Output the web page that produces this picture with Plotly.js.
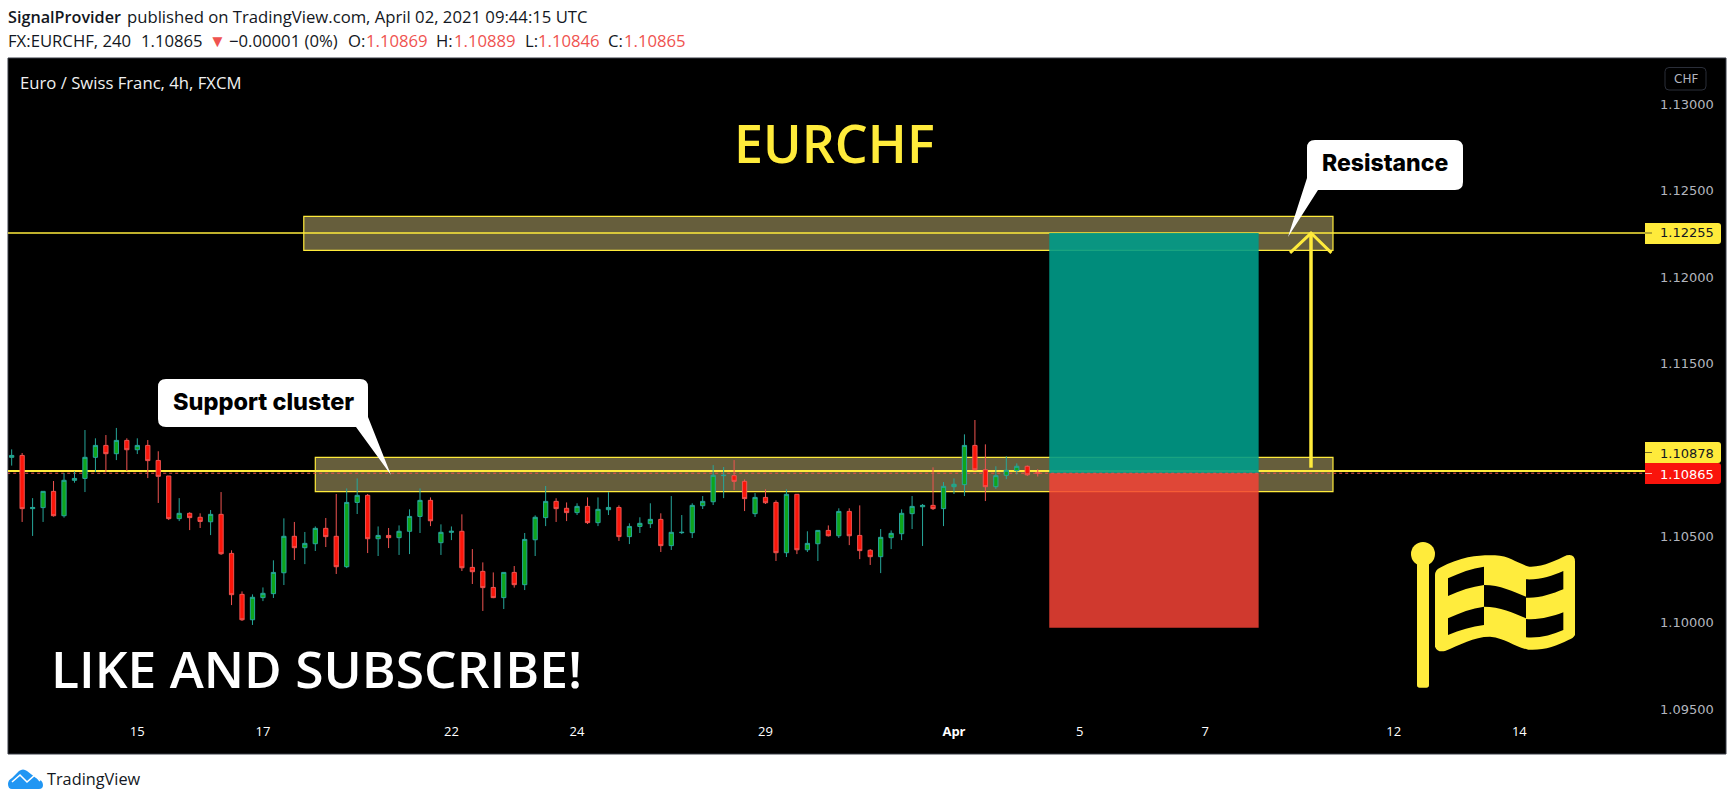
<!DOCTYPE html>
<html><head><meta charset="utf-8">
<script src="https://cdn.plot.ly/plotly-3.0.1.min.js"></script>
<style>html,body{margin:0;padding:0;background:#fff}#c{width:1734px;height:803px}</style>
</head><body><div id="c"></div>
<script>
const openP=[1.10957,1.10968,1.10660,1.10666,1.10760,1.10619,1.10824,1.10835,1.10957,1.11026,1.10978,1.11055,1.11001,1.11026,1.10939,1.10849,1.10602,1.10633,1.10610,1.10584,1.10627,1.10401,1.10164,1.10017,1.10145,1.10168,1.10289,1.10500,1.10434,1.10457,1.10546,1.10500,1.10324,1.10696,1.10737,1.10486,1.10505,1.10492,1.10529,1.10615,1.10708,1.10463,1.10523,1.10529,1.10320,1.10297,1.10204,1.10145,1.10291,1.10220,1.10480,1.10608,1.10702,1.10662,1.10637,1.10673,1.10579,1.10654,1.10667,1.10498,1.10557,1.10573,1.10598,1.10446,1.10521,1.10521,1.10677,1.10700,1.10851,1.10851,1.10818,1.10631,1.10725,1.10696,1.10405,1.10743,1.10422,1.10457,1.10534,1.10503,1.10644,1.10505,1.10419,1.10382,1.10492,1.10515,1.10631,1.10671,1.10679,1.10660,1.10787,1.10799,1.11026,1.10885,1.10787,1.10853,1.10880,1.10905,1.10869];
const highP=[1.11003,1.10982,1.10721,1.10760,1.10820,1.10866,1.10876,1.11115,1.11067,1.11086,1.11127,1.11067,1.11067,1.11057,1.10992,1.10849,1.10721,1.10639,1.10633,1.10652,1.10756,1.10419,1.10181,1.10164,1.10204,1.10361,1.10604,1.10583,1.10525,1.10557,1.10606,1.10745,1.10777,1.10835,1.10745,1.10557,1.10548,1.10563,1.10656,1.10777,1.10725,1.10569,1.10557,1.10627,1.10426,1.10349,1.10291,1.10291,1.10328,1.10519,1.10621,1.10791,1.10720,1.10696,1.10691,1.10725,1.10725,1.10756,1.10679,1.10575,1.10610,1.10691,1.10633,1.10733,1.10623,1.10691,1.10733,1.10912,1.10901,1.10941,1.10829,1.10750,1.10772,1.10708,1.10772,1.10743,1.10529,1.10534,1.10563,1.10662,1.10662,1.10679,1.10426,1.10542,1.10534,1.10656,1.10733,1.10687,1.10899,1.10814,1.10835,1.11090,1.11173,1.11032,1.10905,1.10963,1.10922,1.10910,1.10889];
const lowP=[1.10909,1.10583,1.10502,1.10583,1.10614,1.10608,1.10810,1.10756,1.10872,1.10872,1.10941,1.10878,1.10976,1.10837,1.10693,1.10594,1.10588,1.10536,1.10548,1.10507,1.10392,1.10102,1.10010,1.09987,1.10125,1.10143,1.10218,1.10363,1.10339,1.10415,1.10438,1.10282,1.10316,1.10629,1.10403,1.10386,1.10432,1.10392,1.10397,1.10519,1.10559,1.10392,1.10478,1.10299,1.10224,1.10068,1.10142,1.10079,1.10203,1.10189,1.10386,1.10559,1.10583,1.10588,1.10623,1.10571,1.10559,1.10623,1.10473,1.10455,1.10519,1.10548,1.10409,1.10421,1.10513,1.10490,1.10658,1.10681,1.10721,1.10768,1.10646,1.10612,1.10687,1.10357,1.10380,1.10397,1.10409,1.10357,1.10499,1.10490,1.10449,1.10368,1.10334,1.10287,1.10426,1.10478,1.10542,1.10444,1.10652,1.10559,1.10745,1.10733,1.10882,1.10704,1.10774,1.10831,1.10858,1.10849,1.10846];
const closeP=[1.10968,1.10660,1.10667,1.10760,1.10619,1.10824,1.10835,1.10957,1.11026,1.10978,1.11055,1.11001,1.11026,1.10938,1.10847,1.10602,1.10633,1.10608,1.10586,1.10627,1.10399,1.10162,1.10017,1.10147,1.10170,1.10291,1.10500,1.10434,1.10459,1.10546,1.10498,1.10324,1.10696,1.10737,1.10486,1.10505,1.10492,1.10529,1.10615,1.10708,1.10590,1.10523,1.10529,1.10318,1.10295,1.10203,1.10145,1.10291,1.10220,1.10482,1.10610,1.10702,1.10660,1.10637,1.10673,1.10579,1.10656,1.10667,1.10498,1.10557,1.10575,1.10598,1.10446,1.10523,1.10523,1.10679,1.10702,1.10853,1.10853,1.10818,1.10718,1.10725,1.10694,1.10405,1.10743,1.10422,1.10459,1.10534,1.10503,1.10644,1.10503,1.10417,1.10382,1.10494,1.10517,1.10633,1.10673,1.10679,1.10660,1.10789,1.10801,1.11026,1.10885,1.10787,1.10851,1.10882,1.10905,1.10856,1.10865];
const barIndex=openP.map((_,i)=>i);
const tickIndex=[12,24,42,54,72,90,102,114,132,144];
const tickLabels=['15','17','22','24','29','<b>Apr</b>','5','7','12','14'];
const priceTicks=[1.095,1.10,1.105,1.115,1.12,1.125,1.13];
const resistanceLevel=1.12255, supportLevel=1.10878, lastPrice=1.10865;
const resistanceZone=[1.12155,1.12351], supportZone=[1.10759,1.10957];
const targetLevels=[1.12255,1.10865,1.09971];

const W=1734,H=803,L=8,R=89,T=58,B=81,PW=W-L-R,PH=H-T-B;
const px=x=>(x-L)/PW, py=y=>1-(y-T)/PH;
const YEL='#ffeb3b';
const shapes=[];
const rect=(x0,y0,x1,y1,fill,line,layer)=>shapes.push({type:'rect',xref:'paper',yref:'paper',x0:px(x0),x1:px(x1),y0:py(y0),y1:py(y1),fillcolor:fill,line:{color:line||'rgba(0,0,0,0)',width:line?1:0},layer:layer||'above'});
const path=(pts,fill,line,w,layer)=>shapes.push({type:'path',xref:'paper',yref:'paper',path:pts.replace(/(-?[\d.]+),(-?[\d.]+)/g,(m,a,b)=>px(+a)+','+py(+b)),fillcolor:fill,line:{color:line||'rgba(0,0,0,0)',width:line?(w||1):0},layer:layer||'above'});
const dataRect=(x0,x1,y0,y1,fill,line)=>shapes.push({type:'rect',xref:'x',yref:'y',x0,x1,y0,y1,fillcolor:fill,line:{color:line||'rgba(0,0,0,0)',width:line?1.2:0},layer:'below'});
const hline=(y,x0,x1,color,w,dash)=>shapes.push({type:'line',xref:'x',yref:'y',x0,x1,y0:y,y1:y,line:{color,width:w,dash:dash||'solid'},layer:'below'});

// chart panel
rect(8,58,1726,754,'#000','#363a45','below');

// zones, levels, target boxes
dataRect(27.9,126.2,resistanceZone[0],resistanceZone[1],'rgba(255,235,150,0.4)',YEL);
dataRect(29,126.2,supportZone[0],supportZone[1],'rgba(255,235,150,0.4)',YEL);
hline(resistanceLevel,-1,157,YEL,1.4);
hline(supportLevel,-1,157,YEL,1.8);
dataRect(99.1,119.1,targetLevels[1],targetLevels[0],'rgba(0,155,136,0.9)');
dataRect(99.1,119.1,targetLevels[2],targetLevels[1],'rgba(244,67,54,0.85)');
hline(lastPrice,-1,157,'#ef5350',1,'dot');

// arrow
shapes.push({type:'line',xref:'x',yref:'y',x0:124.1,x1:124.1,y0:1.10897,y1:1.12255,line:{color:YEL,width:3.5},layer:'above'});
shapes.push({type:'path',xref:'x',yref:'y',path:`M122.1,1.1214 L124.1,1.12255 L126.05,1.1214`,line:{color:YEL,width:3},layer:'above'});

// callouts
path('M1307,148 Q1307,140 1315,140 L1455,140 Q1463,140 1463,148 L1463,182 Q1463,190 1455,190 L1318,190 L1288,237 L1307,178 Z','#fff');
path('M158,387 Q158,379 166,379 L360,379 Q368,379 368,387 L368,417 L391,475 L356,427 L166,427 Q158,427 158,419 Z','#fff');

// price labels
const pill=(y0,y1,fill)=>path(`M1645,${y0} L1718,${y0} Q1721,${y0} 1721,${y0+3} L1721,${y1-3} Q1721,${y1} 1718,${y1} L1645,${y1} Z`,fill);
pill(223,244,YEL); pill(442,463,YEL); pill(463,484,'#f9140c');
rect(1645,232.5,1652,233.5,'#6b651f'); rect(1645,452,1652,453,'#6b651f'); rect(1645,473,1652,474,'#ffb0a8');

// currency badge
path('M1669,67.5 L1702,67.5 Q1706,67.5 1706,71.5 L1706,86 Q1706,90 1702,90 L1669,90 Q1665,90 1665,86 L1665,71.5 Q1665,67.5 1669,67.5 Z','#000','#2a2e39',1);

// flag
const zx=v=>1250+v/3, zy=v=>420+v/3;
const Z=s=>s.replace(/(-?[\d.]+) (-?[\d.]+)/g,(m,a,b)=>zx(+a)+','+zy(+b));
shapes.push({type:'circle',xref:'paper',yref:'paper',x0:px(zx(483)),x1:px(zx(555)),y0:py(zy(438)),y1:py(zy(366)),fillcolor:YEL,line:{width:0},layer:'above'});
path(Z('M501 420 L537 420 L537 795 Q537 803 529 803 L509 803 Q501 803 501 795 Z'),'#ffec3d');
path(Z('M555 465 Q555 450 570 443 C640 405 700 405 735 406 C780 408 800 430 838 440 C880 442 920 420 950 406 Q975 400 975 425 L975 645 Q970 655 955 660 C920 678 880 692 835 689 C790 680 770 655 720 650 C670 650 630 675 585 693 Q562 698 555 680 Z'),'#ffec3d');
path(Z('M594 475 C630 458 665 445 702 440 L702 495 C665 500 630 512 594 528 Z'),'#000');
path(Z('M702 495 C750 495 790 515 828 530 L828 595 C790 578 750 560 702 560 Z'),'#000');
path(Z('M828 478 C870 480 905 468 940 453 L940 508 C905 522 870 535 828 533 Z'),'#000');
path(Z('M594 595 C630 578 665 565 702 560 L702 615 C665 620 630 630 594 645 Z'),'#000');
path(Z('M828 597 C870 600 905 590 940 577 L940 630 C905 645 870 655 828 652 Z'),'#000');

// logo
path('M12,789 Q8,789 8,784 Q8,780 12,778 L19,771 Q23,768 27,771 L36,778 Q43,780 43,785 Q43,789 39,789 Z','#2196f3');
path('M12,782 L20,775 L27,782 L35,775 L40,781','rgba(0,0,0,0)','#fff',1.6);

const anns=[];
const ann=(text,x,y,size,color,o={})=>anns.push(Object.assign({text,xref:'paper',yref:'paper',x:px(o.anchor?x:x-2),y:py(y),xanchor:'left',yanchor:'middle',showarrow:false,font:{size,color,family:o.family||'Open Sans',weight:o.weight||400}},o.anchor?{xanchor:o.anchor}:{}));
const RED='#ef5350',INK='#131722',HS=16.7;
ann('SignalProvider',8,17,16.2,INK,{weight:600});
ann('published on TradingView.com, April 02, 2021 09:44:15 UTC',127,17,HS,INK);
ann('FX:EURCHF, 240',8,40,HS,INK,{weight:500});
ann('1.10865',141,40,HS,INK);
ann('▼',209,40,17,RED);
ann('−0.00001 (0%)',229,40,HS,INK);
[['O:',348,'1.10869',366],['H:',436,'1.10889',454],['L:',525,'1.10846',538],['C:',608,'1.10865',624]].forEach(a=>{ann(a[0],a[1],40,HS,INK);ann(a[2],a[3],40,HS,RED);});
ann('Euro / Swiss Franc, 4h, FXCM',20,82,16.7,'#f0f0f0');
ann('CHF',1685.5,79,12,'#b2b5be',{family:'DejaVu Sans',anchor:'center'});
ann('EURCHF',834,142,52,YEL,{weight:600,anchor:'center'});
ann('LIKE AND SUBSCRIBE!',51,668,51.5,'#fff',{weight:600});
ann('Resistance',1385,163,23,'#000',{family:'Inter',weight:800,anchor:'center'});
ann('Support cluster',263,401,23.5,'#000',{family:'Inter',weight:800,anchor:'center'});
ann(String(resistanceLevel.toFixed(5)),1660,233,13,INK,{family:'DejaVu Sans'});
ann(String(supportLevel.toFixed(5)),1660,453,13,INK,{family:'DejaVu Sans'});
ann(String(lastPrice.toFixed(5)),1660,474,13,'#fff',{family:'DejaVu Sans'});
ann('TradingView',47,779,16.3,INK);

const trace={type:'candlestick',x:barIndex,open:openP,high:highP,low:lowP,close:closeP,whiskerwidth:0,
 increasing:{line:{color:'#26a69a',width:1},fillcolor:'#0ea51c'},
 decreasing:{line:{color:'#ef5350',width:1},fillcolor:'#fb1509'},hoverinfo:'skip'};
const layout={width:W,height:H,margin:{l:L,r:R,t:T,b:B,pad:0},paper_bgcolor:'#fff',plot_bgcolor:'#000',showlegend:false,boxgap:0.42,
 xaxis:{type:'linear',range:[-0.35,156],tickmode:'array',tickvals:tickIndex,ticktext:tickLabels,showgrid:false,zeroline:false,showline:false,ticks:'',rangeslider:{visible:false},tickfont:{family:'Open Sans',size:13,color:'#fff'},fixedrange:true},
 yaxis:{side:'right',range:[1.094253,1.13268],tickmode:'array',tickvals:priceTicks,ticktext:priceTicks.map(v=>v.toFixed(5)),showgrid:false,zeroline:false,showline:false,ticks:'',ticklabelstandoff:14,tickfont:{family:'DejaVu Sans',size:13,color:'#b2b5be'},fixedrange:true},
 shapes,annotations:anns,hovermode:false,dragmode:false};
Plotly.newPlot('c',[trace],layout,{displayModeBar:false,staticPlot:true});
</script></body></html>
